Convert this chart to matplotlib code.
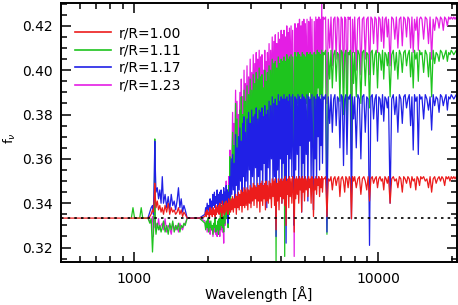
import numpy as np
import matplotlib
matplotlib.use("Agg")
import matplotlib.pyplot as plt
from matplotlib.ticker import LogLocator, MultipleLocator, NullFormatter, FixedLocator

nan = np.nan

# wavelength grid [A]
wavelength = [
    500, 975, 990, 1005, 1055, 1070, 1085, 1140, 1160, 1175,
    1190, 1200, 1210, 1216, 1222, 1230, 1245, 1260, 1275, 1290,
    1305, 1320, 1340, 1360, 1380, 1400, 1420, 1440, 1460, 1480,
    1500, 1520, 1540, 1560, 1580, 1600, 1620, 1650, 1750, 1850,
    1950, 1964, 1978, 1992, 2006, 2020, 2034, 2048, 2062, 2076,
    2090, 2104, 2118, 2132, 2146, 2160, 2174, 2188, 2202, 2216,
    2230, 2244, 2258, 2272, 2286, 2300, 2314, 2328, 2342, 2356,
    2370, 2384, 2398, 2412, 2426, 2440, 2454, 2468, 2482, 2496,
    2514, 2532, 2550, 2568, 2586, 2604, 2622, 2640, 2658, 2676,
    2694, 2712, 2730, 2748, 2766, 2784, 2802, 2820, 2838, 2856,
    2878, 2900, 2922, 2944, 2966, 2988, 3010, 3032, 3054, 3076,
    3098, 3120, 3142, 3164, 3186, 3208, 3230, 3252, 3274, 3296,
    3318, 3340, 3362, 3384, 3406, 3428, 3450, 3472, 3494, 3516,
    3543, 3570, 3597, 3624, 3651, 3678, 3705, 3732, 3759, 3786,
    3813, 3840, 3867, 3894, 3921, 3948, 3975, 4002, 4029, 4056,
    4083, 4110, 4137, 4164, 4191, 4218, 4245, 4272, 4299, 4326,
    4359, 4392, 4425, 4458, 4491, 4524, 4557, 4590, 4623, 4656,
    4689, 4722, 4755, 4788, 4821, 4854, 4887, 4920, 4953, 4986,
    5026, 5066, 5106, 5146, 5186, 5226, 5266, 5306, 5346, 5386,
    5426, 5466, 5506, 5546, 5586, 5626, 5666, 5706, 5746, 5786,
    5826, 5866, 5906, 5946,
    6000, 6080, 6160, 6240, 6320, 6400, 6480, 6560, 6640, 6720,
    6800, 6880, 6960, 7040, 7120, 7200, 7280, 7360, 7440, 7520,
    7600, 7680, 7760, 7840, 7920,
    8000, 8120, 8240, 8360, 8480, 8600, 8720, 8840, 8960, 9080,
    9200, 9320, 9440, 9560, 9680, 9800, 9920, 10040, 10160, 10280,
    10400, 10520, 10640, 10760, 10880,
    11000, 11170, 11340, 11510, 11680, 11850, 12020, 12190, 12360, 12530,
    12700, 12870, 13040, 13210, 13380, 13550, 13720, 13890, 14060, 14230,
    14400, 14570, 14740, 14910,
    15080, 15320, 15560, 15800, 16040, 16280, 16520, 16760, 17000, 17240,
    17480, 17720, 17960, 18200, 18440, 18680, 18920, 19160, 19400, 19640,
    19880, 20120, 20360, 20600, 20840, 21000,
]

# f_nu for r/R = 1.00
f_100 = [
    .3333, .3333, .3333, .3333, .3333, .3333, .3333, .3333, .334, .335,
    .337, .336, .342, .349, .343, .338, .341, .337, .339, .336,
    .338, .335, .339, .336, .340, .335, .338, .336, .337, .335,
    .336, .338, .335, .337, .334, .336, .335, .3333, .3333, .3333,
    .334, .336, .334, .337, .335, .336, .333, .338, .335, .337,
    .334, .338, .335, .337, .334, .339, .335, .338, .336, .339,
    .335, .340, .336, .338, .334, .341, .336, .339, .335, .340,
    .336, .341, .337, .340, .335, .342, .337, .341, .336, .342,
    .337, .343, .336, .342, .338, .344, .335, .343, .338, .345,
    .337, .344, .339, .346, .336, .345, .339, .347, .338, .346,
    .339, .347, .337, .346, .340, .348, .338, .347, .341, .349,
    .339, .348, .342, .347, .338, .349, .341, .348, .336, .349,
    .341, .350, .339, .348, .342, .349, .337, .350, .341, .348,
    .340, .350, .342, .349, .338, .351, .343, .350, .339, .351,
    .328, .349, .341, .351, .337, .350, .343, .351, .340, .350,
    .342, .351, .339, .352, .330, .350, .344, .351, .338, .352,
    .343, .351, .340, .352, .345, .327, .351, .342, .352, .344,
    .351, .340, .352, .346, .351, .336, .352, .345, .351, .341,
    .352, .346, .351, .343, .352, .347, .351, .340, .352, .348,
    .334, .351, .346, .352, .344, .351, .348, .352, .343, .351,
    .347, .352, .345, .351,
    .351, .352, .334, .351, .350, .352, .346, .351, .352, .348,
    .351, .352, .343, .351, .352, .350, .345, .352, .351, .347,
    .352, .351, .333, .352, .350,
    .352, .347, .351, .352, .344, .351, .352, .350, .346, .352,
    .341, .351, .352, .349, .351, .352, .347, .351, .352, .350,
    .351, .346, .352, .351, .349,
    .352, .340, .351, .352, .350, .351, .347, .352, .351, .345,
    .352, .351, .349, .352, .351, .347, .352, .350, .351, .346,
    .352, .351, .348, .352,
    .351, .352, .350, .351, .347, .352, .345, .351, .352, .349,
    .351, .352, .350, .352, .351, .348, .352, .351, .352, .350,
    .352, .351, .352, .351, .352, .352,
]

# f_nu for r/R = 1.11
f_111 = [
    nan, .3333, .338, .3333, .3333, .338, .3333, .3333, .331, .333,
    .318, .327, .340, .369, .330, .326, .331, .328, .330, .327,
    .329, .332, .327, .330, .326, .331, .328, .332, .327, .330,
    .328, .331, .327, .330, .329, .331, .330, .3333, .3333, .3333,
    .331, .328, .332, .329, .333, .327, .331, .329, .332, .328,
    .330, .326, .331, .329, .333, .327, .330, .328, .332, .326,
    .333, .328, .336, .330, .339, .329, .334, .327, .341, .331,
    .338, .345, .333, .342, .329, .348, .335, .361, .340, .356,
    .352, .372, .348, .366, .355, .385, .350, .378, .346, .370,
    .358, .382, .352, .388, .362, .380, .355, .391, .360, .386,
    .365, .393, .358, .389, .370, .396, .362, .391, .368, .398,
    .366, .394, .372, .399, .360, .396, .370, .401, .364, .397,
    .375, .398, .362, .392, .378, .400, .368, .395, .360, .399,
    .376, .402, .368, .400, .380, .405, .372, .403, .366, .404,
    .314, .401, .376, .406, .370, .403, .382, .405, .365, .404,
    .378, .406, .316, .404, .368, .407, .383, .405, .372, .406,
    .380, .407, .374, .406, .386, .335, .408, .375, .406, .385,
    .408, .372, .407, .388, .406, .352, .408, .380, .407, .368,
    .406, .385, .408, .362, .407, .390, .408, .372, .407, .388,
    .355, .408, .380, .407, .370, .409, .392, .408, .378, .407,
    .389, .409, .382, .408,
    .407, .409, .326, .408, .396, .409, .392, .407, .409, .395,
    .408, .407, .386, .409, .408, .380, .407, .409, .372, .408,
    .407, .409, .360, .408, .394,
    .408, .388, .409, .407, .385, .408, .409, .393, .408, .407,
    .383, .408, .409, .398, .407, .409, .392, .408, .407, .400,
    .409, .396, .408, .407, .402,
    .408, .388, .407, .409, .400, .408, .396, .409, .407, .399,
    .408, .409, .402, .407, .409, .397, .408, .392, .409, .405,
    .408, .395, .409, .407,
    .408, .399, .409, .407, .397, .408, .388, .409, .403, .408,
    .407, .404, .409, .408, .405, .407, .409, .404, .408, .407,
    .409, .408, .407, .408, .409, .408,
]

# f_nu for r/R = 1.17
f_117 = [
    nan, nan, nan, nan, nan, nan, nan, .3333, .336, .338,
    .339, .335, .352, .368, .356, .345, .347, .342, .346, .340,
    .352, .340, .344, .338, .343, .337, .344, .339, .341, .337,
    .341, .347, .338, .342, .336, .339, .337, .3333, .3333, .3333,
    .335, .338, .336, .340, .337, .339, .335, .342, .338, .341,
    .337, .344, .339, .345, .338, .343, .340, .346, .338, .344,
    .339, .345, .337, .346, .340, .344, .336, .347, .341, .345,
    .338, .348, .340, .346, .331, .345, .341, .352, .343, .360,
    .344, .362, .346, .358, .341, .371, .348, .365, .343, .370,
    .346, .374, .350, .368, .342, .376, .352, .379, .345, .372,
    .350, .378, .345, .381, .355, .376, .340, .382, .352, .379,
    .348, .380, .356, .383, .343, .378, .352, .382, .345, .381,
    .355, .383, .342, .379, .358, .384, .350, .380, .338, .382,
    .356, .386, .348, .384, .360, .388, .345, .385, .352, .387,
    .325, .384, .355, .389, .348, .386, .360, .388, .340, .387,
    .358, .389, .350, .387, .322, .388, .362, .386, .345, .389,
    .360, .388, .352, .389, .365, .330, .388, .355, .387, .362,
    .389, .350, .388, .366, .387, .336, .389, .358, .388, .345,
    .387, .362, .389, .341, .388, .368, .387, .350, .389, .365,
    .337, .388, .360, .387, .348, .389, .370, .388, .355, .387,
    .366, .389, .358, .388,
    .387, .389, .327, .388, .376, .389, .372, .387, .389, .375,
    .388, .387, .365, .389, .388, .357, .387, .389, .362, .388,
    .387, .389, .333, .388, .378,
    .388, .365, .389, .387, .360, .388, .389, .372, .388, .387,
    .321, .388, .389, .378, .387, .389, .368, .388, .387, .380,
    .389, .377, .388, .387, .383,
    .388, .340, .387, .389, .380, .388, .372, .389, .387, .376,
    .388, .389, .383, .387, .389, .375, .388, .364, .389, .386,
    .388, .362, .389, .387,
    .388, .378, .389, .387, .382, .388, .373, .389, .384, .388,
    .387, .381, .389, .388, .384, .387, .389, .382, .388, .387,
    .389, .388, .387, .388, .389, .388,
]

# f_nu for r/R = 1.23
f_123 = [
    nan, nan, nan, nan, nan, nan, nan, .3333, .332, .331,
    .334, .325, .338, .346, .329, .331, .329, .333, .328, .330,
    .331, .328, .333, .327, .330, .329, .326, .331, .329, .328,
    .330, .327, .331, .329, .328, .330, .331, .3333, .3333, .3333,
    .332, .329, .331, .327, .330, .328, .332, .326, .330, .328,
    .329, .325, .330, .327, .331, .326, .329, .325, .330, .327,
    .331, .325, .334, .328, .337, .327, .333, .322, .340, .330,
    .342, .350, .336, .346, .330, .352, .338, .364, .344, .360,
    .360, .381, .356, .376, .365, .391, .358, .386, .352, .380,
    .368, .390, .362, .396, .372, .388, .365, .400, .370, .394,
    .375, .402, .368, .397, .380, .405, .372, .399, .378, .407,
    .376, .403, .382, .408, .370, .405, .380, .409, .374, .406,
    .385, .407, .372, .400, .388, .409, .378, .404, .370, .408,
    .386, .412, .378, .409, .390, .415, .382, .413, .376, .416,
    .330, .412, .386, .417, .380, .414, .392, .418, .375, .416,
    .388, .418, .335, .415, .378, .420, .393, .417, .382, .419,
    .390, .420, .384, .418, .396, .316, .421, .385, .419, .395,
    .421, .382, .423, .398, .420, .366, .422, .392, .423, .378,
    .421, .395, .423, .372, .422, .400, .424, .382, .423, .398,
    .370, .422, .390, .424, .380, .423, .402, .424, .388, .423,
    .400, .430, .392, .424,
    .423, .424, .385, .423, .410, .424, .402, .423, .424, .405,
    .424, .423, .398, .424, .423, .392, .424, .423, .388, .424,
    .423, .424, .380, .423, .408,
    .424, .400, .423, .424, .398, .423, .424, .405, .423, .424,
    .398, .424, .423, .412, .424, .423, .408, .424, .423, .413,
    .424, .410, .423, .424, .415,
    .423, .402, .424, .423, .414, .424, .410, .423, .424, .411,
    .424, .423, .415, .424, .423, .410, .424, .408, .423, .418,
    .424, .409, .423, .424,
    .423, .414, .424, .423, .412, .424, .405, .423, .418, .424,
    .423, .419, .424, .423, .418, .424, .423, .420, .424, .423,
    .424, .423, .424, .423, .424, .423,
]

labels = ["r/R=1.00", "r/R=1.11", "r/R=1.17", "r/R=1.23"]
colors = ["#ec1c1c", "#1ec41e", "#2020e6", "#e41ee4"]
isotropic = 1.0 / 3.0

plt.rcParams["font.family"] = "DejaVu Sans"

fig = plt.figure(figsize=(4.58, 3.05), dpi=100)
ax = fig.add_axes([0.133, 0.141, 0.865, 0.849])

series = [f_100, f_111, f_117, f_123]
# lower r/R drawn on top
zorders = [5, 3, 4, 2]
handles = []
for f, lab, c, z in zip(series, labels, colors, zorders):
    h, = ax.plot(wavelength, f, color=c, lw=0.9, label=lab, zorder=z)
    handles.append(h)

ax.axhline(isotropic, color="black", lw=1.2, ls=(0, (1.5, 2.5)), zorder=6)

ax.set_xscale("log")
ax.set_xlim(502, 21000)
ax.set_ylim(0.3135, 0.4303)

ax.xaxis.set_major_locator(FixedLocator([1000, 10000]))
ax.set_xticklabels(["1000", "10000"])
ax.xaxis.set_minor_locator(LogLocator(base=10, subs=np.arange(2, 10)))
ax.xaxis.set_minor_formatter(NullFormatter())
ax.yaxis.set_major_locator(MultipleLocator(0.02))
ax.yaxis.set_minor_locator(MultipleLocator(0.005))
ax.yaxis.set_major_formatter(plt.FormatStrFormatter("%.2f"))

ax.tick_params(which="both", direction="in", top=True, right=True,
               labelsize=10, width=1.1)
ax.tick_params(axis="x", which="both", pad=7)
ax.tick_params(axis="y", which="both", pad=6)
ax.tick_params(which="major", length=7.5)
ax.tick_params(which="minor", length=4)
for s in ax.spines.values():
    s.set_linewidth(1.4)
    s.set_zorder(7)

ax.set_xlabel("Wavelength [Å]", fontsize=10, labelpad=0)
ax.set_ylabel(r"f$_\nu$", fontsize=9.5)
ax.yaxis.set_label_coords(-0.108, 0.48)

leg = ax.legend(handles=handles, loc="upper left", frameon=False, fontsize=10,
                handlelength=2.6, handletextpad=0.6, labelspacing=0.25,
                bbox_to_anchor=(0.0, 0.965), borderaxespad=0.6)
for h in leg.get_lines():
    h.set_linewidth(1.2)

fig.savefig("out.png", dpi=100)
